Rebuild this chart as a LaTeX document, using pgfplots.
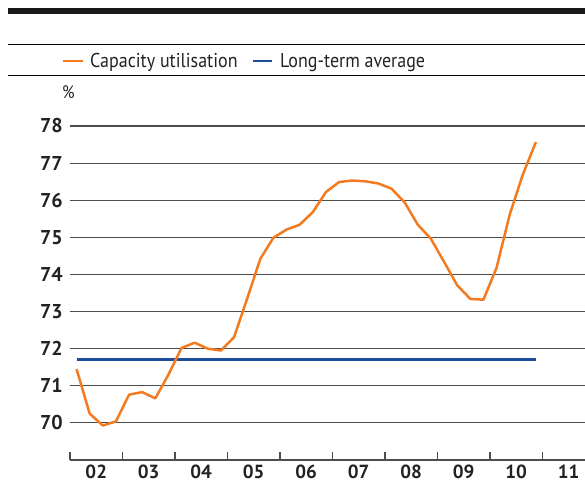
\documentclass[border=0pt]{standalone}
\usepackage{pgfplots}
\pgfplotsset{compat=1.18}
\usepackage{fontspec}
\setmainfont{PT Sans}
\newfontfamily\narrowfont[FakeStretch=0.9]{PT Sans}
\definecolor{cuorange}{HTML}{F47A20}
\definecolor{ltblue}{HTML}{1F4B9B}
\definecolor{gridgray}{HTML}{4D4D4D}
\definecolor{textdark}{HTML}{222222}

\begin{document}
\begin{tikzpicture}[x=1pt,y=1pt]
\useasboundingbox (0,0) rectangle (585,485);
% header rules
\fill[black!90] (8,471) rectangle (585,477);
\draw[line width=1pt, black] (8,440) -- (585,440);
\draw[line width=1pt, black] (8,409) -- (585,409);
% legend
\draw[cuorange, line width=2.5pt] (63,424) -- (83,424);
\node[anchor=base west, inner sep=0pt, text=textdark,
      font=\narrowfont\fontsize{20}{20}\selectfont] at (90,417) {Capacity utilisation};
\draw[ltblue, line width=2.5pt] (253,424) -- (272,424);
\node[anchor=base west, inner sep=0pt, text=textdark,
      font=\narrowfont\fontsize{20}{20}\selectfont] at (280,417) {Long-term average};
% unit
\node[anchor=west, inner sep=0pt, text=textdark,
      font=\narrowfont\fontsize{18}{18}\selectfont] at (62,393) {\%};

\begin{axis}[
  at={(70pt,25pt)}, anchor=south west,
  scale only axis, width=515pt, height=334pt,
  xmin=2002, xmax=2011.81, ymin=69, ymax=78,
  axis x line*=bottom, axis y line*=left,
  y axis line style={draw=none},
  x axis line style={gridgray, line width=1.2pt},
  ytick={70,...,78},
  ymajorgrids, grid style={gridgray, line width=1.2pt},
  xtick={2002.5,2003.5,...,2011.5},
  xticklabels={02,03,04,05,06,07,08,09,10,11},
  minor xtick={2002,...,2011},
  major tick length=0pt, minor tick length=8pt,
  tick align=inside,
  minor tick style={gridgray, line width=1.2pt},
  xticklabel style={anchor=north, inner sep=0pt, yshift=-5pt,
    text=textdark, font=\bfseries\fontsize{19}{19}\selectfont},
  yticklabel style={anchor=east, inner sep=0pt, xshift=-7pt,
    text=textdark, font=\bfseries\fontsize{20}{20}\selectfont},
  /pgf/number format/assume math mode=true,
  clip=false,
]
\addplot[ltblue, line width=2.5pt] coordinates {(2002.13,71.71) (2010.87,71.71)};
\addplot[cuorange, line width=2.5pt, line join=round] coordinates {
 (2002.125,71.45)(2002.375,70.25)(2002.625,69.93)(2002.875,70.04)
 (2003.125,70.76)(2003.375,70.83)(2003.625,70.66)(2003.875,71.30)
 (2004.125,72.02)(2004.375,72.16)(2004.625,72.00)(2004.875,71.95)
 (2005.125,72.31)(2005.375,73.35)(2005.625,74.42)(2005.875,74.99)
 (2006.125,75.21)(2006.375,75.34)(2006.625,75.68)(2006.875,76.22)
 (2007.125,76.49)(2007.375,76.53)(2007.625,76.51)(2007.875,76.45)
 (2008.125,76.31)(2008.375,75.94)(2008.625,75.34)(2008.875,74.96)
 (2009.125,74.34)(2009.375,73.71)(2009.625,73.34)(2009.875,73.32)
 (2010.125,74.18)(2010.375,75.61)(2010.625,76.69)(2010.875,77.57)};
\end{axis}
\end{tikzpicture}
\end{document}
